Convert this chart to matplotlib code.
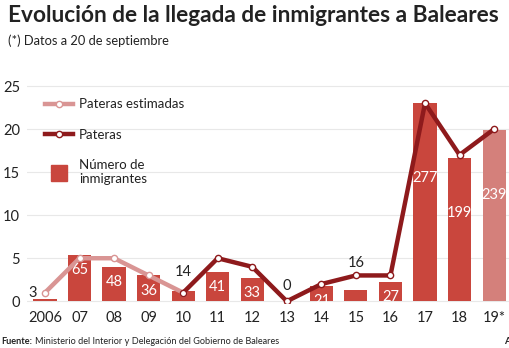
import matplotlib.pyplot as plt
from matplotlib.lines import Line2D
import numpy as np

years = ["2006", "07", "08", "09", "10", "11", "12", "13", "14", "15", "16", "17", "18", "19*"]
inmigrantes = [3, 65, 48, 36, 14, 41, 33, 0, 21, 16, 27, 277, 199, 239]
pateras_est = [1, 5, 5, 3, 1]          # 2006-2010
pateras = [1, 5, 4, 0, 2, 3, 3, 23, 17, 20]  # 2010-2019
y_ticks = [0, 5, 10, 15, 20, 25]

BAR = "#c9463d"
BAR_LAST = "#d4807b"
LIGHT = "#d99594"
DARK = "#8e1a1c"
TXT = "#222222"

plt.rcParams["font.family"] = ["Lato", "DejaVu Sans"]

fig = plt.figure(figsize=(5.1, 3.48), dpi=100)
ax = fig.add_axes([27 / 510, 1 - 303 / 348, 483 / 510, 223 / 348])

x = np.arange(len(years))
scale = 12.0  # immigrants drawn on the pateras axis
h = np.array(inmigrantes) / scale
colors = [BAR] * (len(years) - 1) + [BAR_LAST]
ax.bar(x, h, width=0.67, color=colors, zorder=2)

ax.plot(x[:5], pateras_est, color=LIGHT, lw=3.2, marker="o", ms=4.5,
        mfc="white", mec=LIGHT, mew=1.0, zorder=3, solid_capstyle="butt")
ax.plot(x[4:], pateras, color=DARK, lw=3.2, marker="o", ms=4.5,
        mfc="white", mec=DARK, mew=1.0, zorder=4, solid_capstyle="butt")

# bar labels (small ones sit above the bar in dark text)
outside = {0: (-0.35, 0.95), 4: (4, 3.45), 7: (7, 1.75), 9: (9, 4.5)}
for i, (v, hh) in enumerate(zip(inmigrantes, h)):
    if i in outside:
        ox, oy = outside[i]
        ax.text(ox, oy, str(v), ha="center", va="center", color=TXT, fontsize=10.5)
    elif hh > 10:
        ax.text(i, hh * 0.62, str(v), ha="center", va="center", color="white",
                fontsize=10.5, zorder=5)
    else:
        ax.annotate(str(v), (i, hh), xytext=(0, -11), textcoords="offset points",
                    ha="center", va="center", color="white", fontsize=10.5, zorder=5)

ax.set_xlim(-0.52, 13.46)
ax.set_ylim(-0.2, 25.7)
ax.set_yticks(y_ticks)
ax.set_xticks(x)
ax.set_xticklabels(years)
ax.grid(axis="y", color="#e8e8e8", lw=0.8, zorder=0)
for s in ax.spines.values():
    s.set_visible(False)
ax.tick_params(axis="both", length=0, labelsize=10.5, colors=TXT)
ax.tick_params(axis="y", pad=5)
ax.tick_params(axis="x", pad=6)

handles = [
    Line2D([0], [0], color=LIGHT, lw=3.2, marker="o", ms=4.5, mfc="white", mec=LIGHT),
    Line2D([0], [0], color=DARK, lw=3.2, marker="o", ms=4.5, mfc="white", mec=DARK),
    Line2D([0], [0], ls="none", marker="s", ms=12, mfc=BAR, mec=BAR),
]
ax.legend(handles, ["Pateras estimadas", "Pateras", "Número de\ninmigrantes"],
          loc="upper left", bbox_to_anchor=(0.037, 0.918), frameon=False,
          borderaxespad=0, borderpad=0,
          fontsize=9.5, handlelength=2.1, handletextpad=0.5, labelspacing=1.4,
          labelcolor=TXT)

fig.text(8 / 510, 1 - 16 / 348, "Evolución de la llegada de inmigrantes a Baleares",
         fontsize=16.3, fontweight="bold", color=TXT, va="center")
fig.text(8 / 510, 1 - 41 / 348, "(*) Datos a 20 de septiembre",
         fontsize=9.3, color=TXT, va="center")
fig.text(1 / 510, 1 - 341 / 348, "Fuente:", fontsize=6.6, fontweight="bold",
         color=TXT, va="center")
fig.text(35 / 510, 1 - 341 / 348,
         "Ministerio del Interior y Delegación del Gobierno de Baleares",
         fontsize=6.6, color=TXT, va="center")
fig.text(504 / 510, 1 - 341 / 348, "A", fontsize=7, fontweight="bold",
         color=TXT, va="center")

fig.savefig("out.png", dpi=100)
